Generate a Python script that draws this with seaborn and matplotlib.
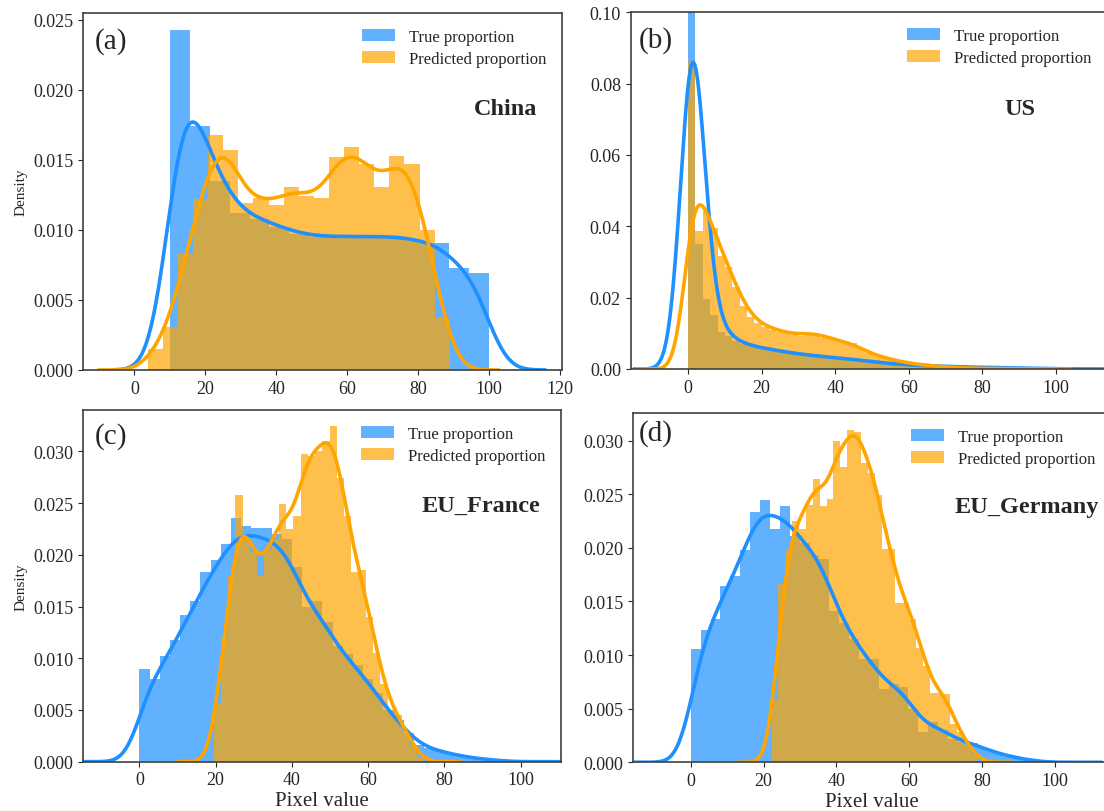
import numpy as np
import pandas as pd
import matplotlib
matplotlib.use("Agg")
import matplotlib.pyplot as plt
import seaborn as sns

# ---------------- data (density of each histogram bin) ----------------
# (a) China
a_true_start, a_true_width = 10.0, 5.625
a_true = [0.0243, 0.0174, 0.0135, 0.0112, 0.0108, 0.0102, 0.0097, 0.0095,
          0.0095, 0.0095, 0.0095, 0.0095, 0.0092, 0.0091, 0.0073, 0.0069]
a_pred_start, a_pred_width = 3.8, 4.26
a_pred = [0.0015, 0.0031, 0.0083, 0.0122, 0.0168, 0.0157, 0.0119, 0.0123,
          0.0118, 0.0131, 0.0124, 0.0123, 0.0152, 0.0159, 0.0147, 0.0131,
          0.0153, 0.0147, 0.0100, 0.0037]

# (b) US
b_true_start, b_true_width = 0.0, 2.0
b_true = [0.30, 0.035, 0.0196, 0.0150, 0.0105, 0.0092, 0.0078, 0.0070, 0.0064, 0.0060,
          0.0056, 0.0053, 0.0050, 0.0046, 0.0043, 0.0040, 0.0038, 0.0036, 0.0034, 0.0032,
          0.0030, 0.0028, 0.0027, 0.0024, 0.0021, 0.0019, 0.0017, 0.0015, 0.0013, 0.0012,
          0.0011, 0.0010, 0.0009, 0.0008, 0.0008, 0.0007, 0.0006, 0.0006, 0.0005, 0.0005,
          0.0004, 0.0004, 0.0004, 0.0003, 0.0003, 0.0003, 0.0003, 0.0002, 0.0002, 0.0002]
b_pred_start, b_pred_width = 0.0, 2.0
b_pred = [0.086, 0.0388, 0.0444, 0.0396, 0.0318, 0.0285, 0.0229, 0.0178, 0.0145, 0.0128,
          0.0118, 0.0110, 0.0105, 0.0100, 0.0095, 0.0093, 0.0102, 0.0098, 0.0088, 0.0086,
          0.0078, 0.0070, 0.0073, 0.0055, 0.0045, 0.0038, 0.0032, 0.0027, 0.0022, 0.0018,
          0.0015, 0.0012, 0.0010, 0.0008, 0.0006, 0.0005, 0.0004, 0.0003, 0.00025, 0.0002,
          0.00015, 0.0001, 0.0001, 0.0001, 0.0001]

# (c) EU_France
c_true_start, c_true_width = 0.0, 2.667
c_true = [0.0090, 0.0080, 0.0102, 0.0118, 0.0142, 0.0155, 0.0183, 0.0195, 0.0210, 0.0236,
          0.0228, 0.0226, 0.0226, 0.0220, 0.0215, 0.0188, 0.0150, 0.0155, 0.0135, 0.0112,
          0.0104, 0.0093, 0.0080, 0.0066, 0.0050, 0.0040, 0.0028, 0.0016, 0.0013, 0.0011,
          0.0008, 0.0006, 0.0004, 0.0003, 0.0002, 0.0001]
c_pred_start, c_pred_width = 19.5, 1.9
c_pred = [0.0057, 0.0120, 0.0180, 0.0258, 0.0216, 0.0203, 0.0180, 0.0205, 0.0214, 0.0249,
          0.0225, 0.0238, 0.0297, 0.0296, 0.0300, 0.0310, 0.0325, 0.0274, 0.0238, 0.0183,
          0.0185, 0.0140, 0.0105, 0.0075, 0.0050, 0.0045, 0.0030, 0.0015, 0.0005]

# (d) EU_Germany
d_true_start, d_true_width = 0.0, 2.72
d_true = [0.0106, 0.0123, 0.0134, 0.0164, 0.0174, 0.0198, 0.0233, 0.0245, 0.0218, 0.0239,
          0.0211, 0.0205, 0.0193, 0.0190, 0.0141, 0.0130, 0.0115, 0.0096, 0.0096, 0.0068,
          0.0073, 0.0070, 0.0050, 0.0028, 0.0038, 0.0030, 0.0022, 0.0019, 0.0018, 0.0013,
          0.0010, 0.0007, 0.0005, 0.0003, 0.0002]
d_pred_start, d_pred_width = 22.2, 1.89
d_pred = [0.0058, 0.0166, 0.0198, 0.0225, 0.0218, 0.0240, 0.0264, 0.0239, 0.0246, 0.0300,
          0.0275, 0.0310, 0.0308, 0.0279, 0.0270, 0.0249, 0.0199, 0.0199, 0.0149, 0.0149,
          0.0134, 0.0107, 0.0090, 0.0065, 0.0065, 0.0064, 0.0036, 0.0028, 0.0016, 0.0008]

panel_tags = ["(a)", "(b)", "(c)", "(d)"]
regions = ["China", "US", "EU_France", "EU_Germany"]
series_labels = ["True proportion", "Predicted proportion"]

# ---------------- style ----------------
sns.set_style("ticks")
plt.rcParams["font.family"] = ["Liberation Serif", "DejaVu Serif"]

BLUE = "#1E90FF"
ORANGE = "#FFA500"

panels = [
    dict(true=(a_true, a_true_start, a_true_width), pred=(a_pred, a_pred_start, a_pred_width),
         bw=(5.0, 4.0), cut=(3.9, 3.5),
         rect=[83, 14, 562, 371], xlim=(-14.5, 120.7), ylim=(0, 0.0255),
         tag=(0.025, 0.962), region=(95.9, 0.0187)),
    dict(true=(b_true, b_true_start, b_true_width), pred=(b_pred, b_pred_start, b_pred_width),
         bw=(3.25, 2.8), cut=(3.3, 3.4),
         rect=[630.7, 13.3, 1107, 370], xlim=(-15.6, 113.9), ylim=(0, 0.10),
         tag=(0.017, 0.962), region=(86.0, 0.073)),
    dict(true=(c_true, c_true_start, c_true_width), pred=(c_pred, c_pred_start, c_pred_width),
         bw=(3.5, 2.3), cut=(3.0, 3.4),
         rect=[83.3, 411, 561, 762.7], xlim=(-14.7, 110.6), ylim=(0, 0.0340),
         tag=(0.024, 0.967), region=(74.0, 0.0248)),
    dict(true=(d_true, d_true_start, d_true_width), pred=(d_pred, d_pred_start, d_pred_width),
         bw=(3.5, 2.3), cut=(3.6, 3.3),
         rect=[633.3, 414, 1111, 763.3], xlim=(-15.8, 115.5), ylim=(0, 0.03258),
         tag=(0.012, 0.982), region=(72.5, 0.0239)),
]

W, H = 1104, 812
fig = plt.figure(figsize=(W / 100, H / 100), dpi=100)

for i, p in enumerate(panels):
    x0, y0, x1, y1 = p["rect"]
    ax = fig.add_axes([x0 / W, 1 - y1 / H, (x1 - x0) / W, (y1 - y0) / H])
    for (vals, start, width), color, label, bw, cut in zip(
            [p["true"], p["pred"]], [BLUE, ORANGE], series_labels, p["bw"], p["cut"]):
        vals = np.asarray(vals, dtype=float)
        edges = start + width * np.arange(len(vals) + 1)
        centers = 0.5 * (edges[:-1] + edges[1:])
        df = pd.DataFrame({"value": centers, "density": vals})
        sns.histplot(data=df, x="value", weights="density", bins=[float(e) for e in edges],
                     stat="count", element="step", fill=True, color=color, alpha=0.7,
                     linewidth=0, ax=ax, label=label)
        wstd = float(np.sqrt(np.cov(centers, aweights=vals)))
        sns.kdeplot(data=df, x="value", weights="density", bw_method=bw / wstd, cut=cut,
                    gridsize=400, color=color, linewidth=2.6, ax=ax)
    ax.set_xlim(*p["xlim"])
    ax.set_ylim(*p["ylim"])
    ax.set_ylabel("Density" if i % 2 == 0 else "", fontsize=11)
    ax.set_xlabel("Pixel value" if i >= 2 else "", fontsize=15, labelpad=2)
    ax.tick_params(labelsize=13)
    for s in ax.spines.values():
        s.set_visible(True)
        s.set_color("#404040")
        s.set_linewidth(1.2)
    ax.legend(loc="upper right", frameon=False, fontsize=12, handlelength=2.0,
              borderaxespad=0.55, labelspacing=0.35)
    ax.text(p["tag"][0], p["tag"][1], panel_tags[i], transform=ax.transAxes,
            ha="left", va="top", fontsize=21)
    ax.text(p["region"][0], p["region"][1], regions[i], ha="left", va="center",
            fontsize=17.5, fontweight="bold")

fig.savefig("out.png", dpi=100)
